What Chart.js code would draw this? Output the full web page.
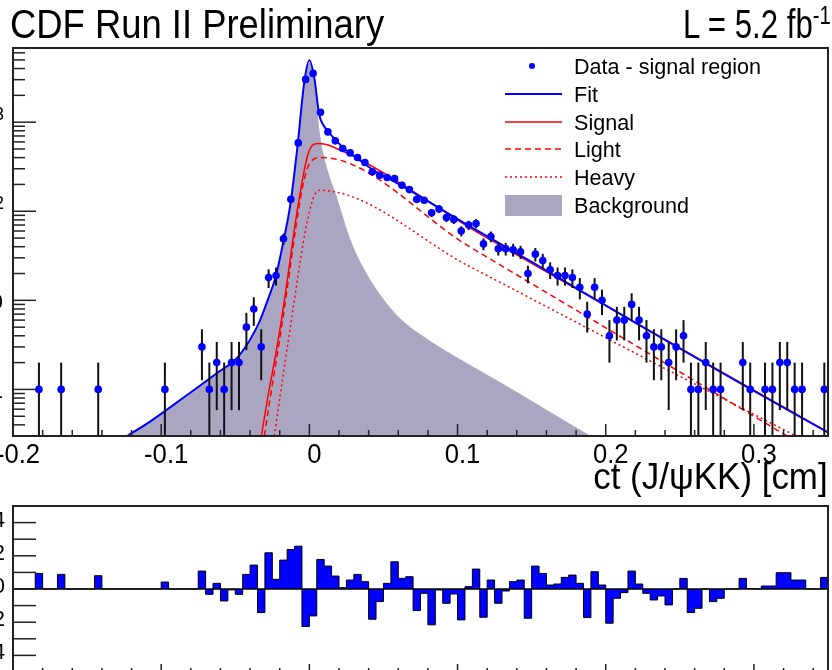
<!DOCTYPE html>
<html lang="en">
<head>
<meta charset="utf-8">
<title>CDF Run II Preliminary</title>
<script src="https://cdn.jsdelivr.net/npm/chart.js@4/dist/chart.umd.min.js"></script>
<style>
  html, body { margin: 0; padding: 0; background: #fff; }
  body { position: relative; width: 832px; height: 670px; overflow: hidden; font-family: "Liberation Sans", Arial, sans-serif; color: #000; }
  canvas { position: absolute; left: 0; }
  #chartTop { top: 0; }
  #chartRes { top: 490px; }
  .label { position: absolute; white-space: nowrap; line-height: 1; }
  #title { left: 10px; top: 4px; font-size: 40px; transform: scaleX(0.91); transform-origin: 0 0; }
  #lumi { left: 683px; top: 4px; font-size: 40px; transform: scaleX(0.78); transform-origin: 0 0; }
  #lumi sup { font-size: 26px; line-height: 0; vertical-align: 14px; }
  #xtitle { right: 4px; top: 459px; font-size: 36px; transform: scaleX(0.97); transform-origin: 100% 0; }
</style>
</head>
<body>
<canvas id="chartTop" width="832" height="470"></canvas>
<canvas id="chartRes" width="832" height="190"></canvas>
<div class="label" id="title">CDF Run II Preliminary</div>
<div class="label" id="lumi">L = 5.2 fb<sup>-1</sup></div>
<div class="label" id="xtitle">ct (J/ψKK) [cm]</div>
<script>
// binning of the ct histogram [cm]
var binLow = -0.2;
var binWidth = 0.005;

// events per bin (110 bins, -0.2 .. 0.35)
var counts = [
  0, 0, 0, 1, 0, 0, 1, 0, 0, 0,
  0, 1, 0, 0, 0, 0, 0, 0, 0, 0,
  1, 0, 0, 0, 0, 3, 1, 2, 1, 2,
  2, 5, 8, 3, 18, 19, 49, 136, 585, 3020,
  3525, 1290, 778, 617, 506, 452, 401, 352, 277, 254,
  239, 233, 196, 175, 136, 133, 96, 106, 85, 81,
  60, 70, 73, 43, 52, 38, 38, 37, 35, 20,
  33, 28, 22, 19, 19, 18, 14, 7, 14, 10,
  4, 6, 6, 9, 6, 4, 3, 3, 2, 3,
  4, 1, 1, 2, 1, 1, 0, 0, 2, 1,
  0, 1, 1, 2, 2, 1, 1, 0, 0, 1
];

// (data - fit) / error per bin
var residuals = [
  0, 0, 0, 0.94, 0, 0, 0.88, 0, 0, 0,
  0, 0.8, 0, 0, 0, 0, 0, 0, 0, 0,
  0.42, 0, 0, 0, 0, 1.08, -0.32, 0.34, -0.72, -0.05,
  -0.32, 0.88, 1.44, -1.42, 2.18, 0.58, 1.74, 2.38, 2.58, -2.26,
  -1.62, 1.78, 1.38, 0.78, 0.08, 0.54, 0.88, 0.44, -1.82, -0.76,
  0.34, 1.64, 0.64, 0.74, -1.3, -0.26, -2.16, -0.06, -0.86, -0.3,
  -1.86, 0.14, 1.2, -1.7, 0.54, -0.86, -0.12, 0.44, 0.54, -1.76,
  1.38, 0.94, 0.24, 0.3, 0.7, 0.84, 0.34, -1.72, 1.04, 0.24,
  -2.06, -0.56, -0.22, 1.08, 0.3, -0.26, -0.66, -0.42, -0.96, 0,
  0.64, -1.42, -1.16, 0, -0.76, -0.56, 0, 0, 0.64, 0.02,
  0, 0.18, 0.18, 0.98, 0.98, 0.54, 0.54, 0, 0, 0.7
];

// fit components
var fitX = [-0.123, -0.108, -0.0858, -0.063, -0.0473, -0.0338, -0.0282, -0.0225, -0.018, -0.0128, -0.0079, -0.0034, 0.0, 0.0034, 0.0065, 0.011, 0.0158, 0.0226, 0.0325, 0.0425, 0.0608, 0.1081, 0.15, 0.2216, 0.2667, 0.2973, 0.35];
var fitY = [0.3, 0.43, 0.79, 1.5, 2.41, 5.7, 10, 19, 42, 120, 560, 2850, 4970, 3100, 1250, 850, 685, 520, 390, 295, 200, 68, 27, 5.4, 2.0, 1.02, 0.33];

var sigX = [-0.0324, -0.0282, -0.0225, -0.018, -0.0135, -0.009, -0.0045, -0.0011, 0.0022, 0.0061, 0.0157, 0.1149, 0.35];
var sigY = [0.3, 0.79, 2.6, 7.4, 24.7, 83, 233, 425, 553, 575, 530, 56, 0.33];

var lightX = [-0.0304, -0.027, -0.018, -0.0135, -0.009, -0.0045, 0.0, 0.0079, 0.1081, 0.2297, 0.3223];
var lightY = [0.3, 0.7, 6, 20, 68, 190, 340, 401, 40, 2.5, 0.3];

var heavyX = [-0.0236, -0.018, -0.0113, -0.0045, 0.0, 0.0034, 0.0068, 0.1081, 0.2297, 0.3284];
var heavyY = [0.3, 1.33, 7.4, 41, 98, 150, 172, 24, 2.1, 0.3];

var bgX = [-0.123, -0.108, -0.0858, -0.063, -0.0473, -0.0338, -0.0282, -0.0225, -0.018, -0.0128, -0.0079, -0.0034, 0.0, 0.0034, 0.0065, 0.009, 0.0189, 0.027, 0.0351, 0.0473, 0.0608, 0.0811, 0.1014, 0.1284, 0.1588, 0.1892];
var bgY = [0.3, 0.43, 0.79, 1.5, 2.41, 5.6, 9.8, 18, 38, 105, 480, 2550, 4600, 2500, 800, 450, 133, 50, 25, 11.7, 6.3, 3.5, 2.17, 1.2, 0.6, 0.3];

// axis labels
var xTickValues = [-0.2, -0.1, 0, 0.1, 0.2, 0.3];
var xTickLabels = ['-0.2', '-0.1', '0', '0.1', '0.2', '0.3'];
var yTickValues = [1, 10, 100, 1000];
var yTickBase = ['1', '10', '10', '10'];
var yTickExp = ['', '', '2', '3'];
var resTickValues = [4, 2, 0, -2, -4];
var resTickLabels = ['4', '2', '0', '-2', '-4'];

var FONT = '"Liberation Sans", Arial, sans-serif';
var BG_COLOR = '#aaa6c2';

var pts = function (xs, ys) {
  return xs.map(function (x, i) { return { x: x, y: ys[i] }; });
};

var dataPts = [];
counts.forEach(function (c, i) {
  if (c > 0) dataPts.push({ x: binLow + binWidth * (i + 0.5), y: c });
});

// step outline of the residuals: left edge of each bin + closing right edge
var resPts = residuals.map(function (r, i) { return { x: binLow + binWidth * i, y: r }; });
resPts.push({ x: binLow + binWidth * residuals.length, y: residuals[residuals.length - 1] });

var drawText = function (ctx, txt, x, y, size, align, sx) {
  ctx.save();
  ctx.font = size + 'px ' + FONT;
  ctx.textAlign = align;
  ctx.textBaseline = 'alphabetic';
  ctx.fillStyle = '#000';
  ctx.translate(x, y);
  ctx.scale(sx, 1);
  ctx.fillText(txt, 0, 0);
  ctx.restore();
};

var tick = function (ctx, x1, y1, x2, y2) {
  ctx.beginPath();
  ctx.moveTo(x1, y1);
  ctx.lineTo(x2, y2);
  ctx.stroke();
};

// vertical sqrt(N) error bars, drawn just under the data markers
var errorBars = {
  id: 'errorBars',
  beforeDatasetDraw: function (chart, args) {
    if (args.index !== 0) return;
    var ctx = chart.ctx, xs = chart.scales.x, ys = chart.scales.y, a = chart.chartArea;
    ctx.save();
    ctx.beginPath();
    ctx.rect(a.left, a.top, a.right - a.left, a.bottom - a.top);
    ctx.clip();
    ctx.strokeStyle = '#111';
    ctx.lineWidth = 2;
    counts.forEach(function (c, i) {
      if (c <= 0) return;
      var e = Math.sqrt(c);
      var px = xs.getPixelForValue(binLow + binWidth * (i + 0.5));
      var hi = ys.getPixelForValue(c + e);
      var lo = (c - e) > ys.min ? ys.getPixelForValue(c - e) : a.bottom;
      tick(ctx, px, hi, px, lo);
    });
    ctx.restore();
  }
};

// frame, inner ticks and labels of the upper pad
var frameTop = {
  id: 'frameTop',
  afterDraw: function (chart) {
    var ctx = chart.ctx, a = chart.chartArea, xs = chart.scales.x, ys = chart.scales.y;
    ctx.save();
    ctx.strokeStyle = '#222';
    ctx.lineWidth = 1.5;
    for (var k = -1; k <= 3; k++) {
      for (var m = 1; m <= 9; m++) {
        var v = m * Math.pow(10, k);
        if (v < ys.min || v > ys.max) continue;
        var py = ys.getPixelForValue(v);
        tick(ctx, a.left, py, a.left + (m === 1 ? 23 : 12), py);
      }
    }
    for (var j = 0; j <= 27; j++) {
      var px = xs.getPixelForValue(-0.2 + j * 0.02);
      tick(ctx, px, a.bottom, px, a.bottom - (j % 5 === 0 ? 12 : 6));
    }
    ctx.lineWidth = 2;
    ctx.strokeRect(a.left, a.top, a.right - a.left, a.bottom - a.top);
    ctx.restore();

    xTickValues.forEach(function (v, i) {
      drawText(ctx, xTickLabels[i], xs.getPixelForValue(v) + 5, a.bottom + 27, 27, 'center', 0.95);
    });
    yTickValues.forEach(function (v, i) {
      var py = ys.getPixelForValue(v);
      var right = 3;
      if (yTickExp[i]) {
        drawText(ctx, yTickExp[i], 4, py - 2, 18, 'right', 1);
        right = -6;
      }
      drawText(ctx, yTickBase[i], right, py + 9, 22, 'right', 1);
    });
  }
};

// legend box in the upper right corner
var legendRows = [66, 94, 122, 149, 177, 205];
var legendBox = {
  id: 'legendBox',
  afterDraw: function (chart) {
    var ctx = chart.ctx;
    chart.data.datasets.forEach(function (ds, i) {
      var y = legendRows[i];
      ctx.save();
      if (i === 0) {
        ctx.fillStyle = ds.pointBackgroundColor;
        ctx.beginPath();
        ctx.arc(532, y, 3, 0, Math.PI * 2);
        ctx.fill();
      } else if (ds.fill) {
        ctx.fillStyle = ds.backgroundColor;
        ctx.fillRect(505, y - 10, 57, 21);
      } else {
        ctx.strokeStyle = ds.borderColor;
        ctx.lineWidth = ds.borderWidth;
        ctx.setLineDash(ds.borderDash || []);
        tick(ctx, 505, y, 562, y);
      }
      ctx.restore();
      drawText(ctx, ds.label, 574, y + 8, 22, 'left', 0.98);
    });
  }
};

// frame, zero line, ticks and labels of the residual pad
var frameRes = {
  id: 'frameRes',
  afterDraw: function (chart) {
    var ctx = chart.ctx, a = chart.chartArea, xs = chart.scales.x, ys = chart.scales.y;
    ctx.save();
    ctx.strokeStyle = '#000';
    ctx.lineWidth = 1.5;
    tick(ctx, a.left, ys.getPixelForValue(0), a.right, ys.getPixelForValue(0));
    ctx.strokeStyle = '#222';
    for (var k = -4; k <= 4; k++) {
      var py = ys.getPixelForValue(k);
      tick(ctx, a.left, py, a.left + 23, py);
    }
    for (var j = 0; j <= 27; j++) {
      var px = xs.getPixelForValue(-0.2 + j * 0.02);
      tick(ctx, px, a.bottom, px, a.bottom - (j % 5 === 0 ? 8 : 4));
    }
    ctx.lineWidth = 2;
    ctx.strokeRect(a.left, a.top, a.right - a.left, a.bottom - a.top);
    ctx.restore();
    resTickValues.forEach(function (v, i) {
      drawText(ctx, resTickLabels[i], 5, ys.getPixelForValue(v) + 4, 22, 'right', 1);
    });
  }
};

var lineSet = function (label, xs, ys, color, width, dash) {
  return {
    label: label,
    data: pts(xs, ys),
    borderColor: color,
    borderWidth: width,
    borderDash: dash,
    pointRadius: 0,
    fill: false,
    cubicInterpolationMode: 'monotone'
  };
};

new Chart(document.getElementById('chartTop'), {
  type: 'line',
  data: {
    datasets: [
      {
        label: 'Data - signal region',
        data: dataPts,
        showLine: false,
        pointRadius: 3.8,
        pointBackgroundColor: '#0000ff',
        pointBorderWidth: 0
      },
      lineSet('Fit', fitX, fitY, '#0000ff', 2, []),
      lineSet('Signal', sigX, sigY, '#ff0000', 1.5, []),
      lineSet('Light', lightX, lightY, '#ff0000', 1.5, [6, 4]),
      lineSet('Heavy', heavyX, heavyY, '#ff0000', 1.5, [2, 3]),
      {
        label: 'Background',
        data: pts(bgX, bgY),
        borderColor: BG_COLOR,
        borderWidth: 1,
        backgroundColor: BG_COLOR,
        pointRadius: 0,
        fill: 'start',
        cubicInterpolationMode: 'monotone'
      }
    ]
  },
  options: {
    responsive: false,
    animation: false,
    devicePixelRatio: 1,
    layout: { padding: { left: 13, right: 4, top: 48, bottom: 34 } },
    scales: {
      x: { type: 'linear', min: -0.2, max: 0.35, bounds: 'data', display: false },
      y: { type: 'logarithmic', min: 0.3, max: 6800, bounds: 'data', display: false }
    },
    plugins: { legend: { display: false }, tooltip: { enabled: false } }
  },
  plugins: [errorBars, frameTop, legendBox]
});

new Chart(document.getElementById('chartRes'), {
  type: 'line',
  data: {
    datasets: [{
      label: 'Residual',
      data: resPts,
      stepped: 'before',
      borderColor: '#000',
      borderWidth: 1,
      backgroundColor: '#0000ff',
      pointRadius: 0,
      fill: 'origin'
    }]
  },
  options: {
    responsive: false,
    animation: false,
    devicePixelRatio: 1,
    layout: { padding: { left: 13, right: 4, top: 16, bottom: 8 } },
    scales: {
      x: { type: 'linear', min: -0.2, max: 0.35, bounds: 'data', display: false },
      y: { type: 'linear', min: -5, max: 5, bounds: 'data', display: false }
    },
    plugins: { legend: { display: false }, tooltip: { enabled: false } }
  },
  plugins: [frameRes]
});
</script>
</body>
</html>
